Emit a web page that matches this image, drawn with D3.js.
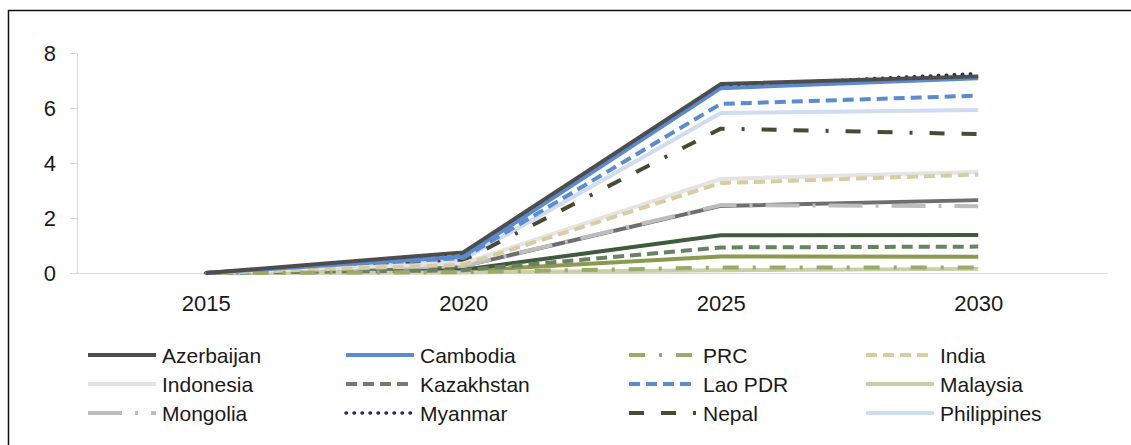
<!DOCTYPE html>
<html lang="en">
  <head>
    <meta charset="UTF-8">
    <title>Line chart by country</title>
    <style>
      body { margin: 0; background: #fff; }
      svg { display: block; font-family: "Liberation Sans", Arial, sans-serif; }
      .axis-y path, .axis-x path { stroke: #d9d9d9; }
      .axis-y .tick line { stroke: #d9d9d9; }
      .axis text { fill: #1a1a1a; font-size: 22px; }
      .legend text { fill: #1a1a1a; font-size: 21px; }
    </style>
    <script src="https://d3js.org/d3.v7.min.js"></script>
  </head>
  <body>
    <script>
      const years = [2015, 2020, 2025, 2030];
      const yTicks = [0, 2, 4, 6, 8];

      const countries = ["Azerbaijan", "Cambodia", "PRC", "India", "Indonesia", "Kazakhstan",
        "Lao PDR", "Malaysia", "Mongolia", "Myanmar", "Nepal", "Philippines"];
      // three more series are drawn but have no legend entry in the original
      const extraSeries = ["Series 13", "Series 14", "Series 15"];

      const azerbaijan = [0, 0.75, 6.87, 7.15];
      const cambodia = [0, 0.6, 6.72, 7.08];
      const prc = [0, 0.03, 0.2, 0.2];
      const india = [0, 0.3, 3.27, 3.58];
      const indonesia = [0, 0.35, 3.42, 3.67];
      const kazakhstan = [0, 0.1, 0.93, 0.96];
      const laoPdr = [0, 0.55, 6.15, 6.45];
      const malaysia = [0, 0.02, 0.1, 0.15];
      const mongolia = [0, 0.25, 2.47, 2.43];
      const myanmar = [0, 0.65, 6.8, 7.25];
      const nepal = [0, 0.45, 5.25, 5.05];
      const philippines = [0, 0.5, 5.82, 5.93];
      const series13 = [0, 0.25, 2.44, 2.65];
      const series14 = [0, 0.12, 1.37, 1.38];
      const series15 = [0, 0.08, 0.6, 0.59];

      const values = [azerbaijan, cambodia, prc, india, indonesia, kazakhstan, laoPdr,
        malaysia, mongolia, myanmar, nepal, philippines, series13, series14, series15];

      const colors = ["#4d4d4d", "#5a8bd0", "#9aaa68", "#d8cda0", "#e4e4e4", "#6a8162",
        "#5b8bd0", "#c9d0a8", "#bdbdbd", "#1f2d5a", "#4a4933", "#cfdcf2",
        "#6e6e6e", "#3f5a3c", "#8c9a4f"];
      const dashes = [null, null, "16,14,3,14", "11,6", null, "11,6",
        "11,6", null, "34,13,3,13", "0.5,7.5", "15,17,15,17,3,17", null,
        null, null, null];

      const width = 1131;
      const height = 445;
      const margin = { top: 53, right: 24, bottom: 172, left: 77 };

      const svg = d3.select("body")
        .append("svg")
        .attr("width", width)
        .attr("height", height);

      // outer frame (runs past the right and bottom edges of the picture)
      svg.append("rect")
        .attr("x", 8.5)
        .attr("y", 10.5)
        .attr("width", width)
        .attr("height", height)
        .attr("fill", "none")
        .attr("stroke", "#111")
        .attr("stroke-width", 1.5);

      const x = d3.scalePoint()
        .domain(years)
        .range([margin.left, width - margin.right])
        .padding(0.5);

      const y = d3.scaleLinear()
        .domain([0, 8])
        .range([height - margin.bottom, margin.top]);

      svg.append("g")
        .attr("class", "axis axis-y")
        .attr("transform", `translate(${margin.left},0)`)
        .call(d3.axisLeft(y).tickValues(yTicks).tickSize(7).tickSizeOuter(0).tickPadding(14))
        .call(g => g.selectAll("text").attr("font-family", null));

      svg.append("g")
        .attr("class", "axis axis-x")
        .attr("transform", `translate(0,${y(0)})`)
        .call(d3.axisBottom(x).tickSize(0).tickSizeOuter(0).tickPadding(22).tickFormat(d3.format("d")))
        .call(g => g.selectAll("text").attr("font-family", null));

      const names = countries.concat(extraSeries);
      const rows = names.map((name, i) => ({ name, i, vals: values[i] }));
      const isDots = i => dashes[i] === "0.5,7.5";

      const line = d3.line()
        .x((d, j) => x(years[j]))
        .y(d => y(d));

      // draw in reverse so the first series end up on top
      svg.append("g")
        .selectAll("path")
        .data(rows.slice().reverse())
        .enter()
        .append("path")
        .attr("d", d => line(d.vals))
        .attr("fill", "none")
        .attr("stroke", d => colors[d.i])
        .attr("stroke-width", d => isDots(d.i) ? 3.5 : 4)
        .attr("stroke-linecap", d => isDots(d.i) ? "round" : "butt")
        .attr("stroke-linejoin", "round")
        .attr("stroke-dasharray", d => dashes[d.i]);

      // legend, four columns
      const colX = [162, 420, 703, 940];
      const legend = svg.append("g").attr("class", "legend");
      const items = legend.selectAll("g")
        .data(countries)
        .enter()
        .append("g")
        .attr("transform", (d, i) => `translate(${colX[i % 4]},${355 + Math.floor(i / 4) * 29})`);

      items.append("line")
        .attr("x1", -74)
        .attr("x2", -6)
        .attr("stroke", (d, i) => colors[i])
        .attr("stroke-width", (d, i) => isDots(i) ? 3.5 : 4)
        .attr("stroke-linecap", (d, i) => isDots(i) ? "round" : "butt")
        .attr("stroke-dasharray", (d, i) => dashes[i]);

      items.append("text")
        .attr("x", 0)
        .attr("dy", "0.36em")
        .text(d => d);
    </script>
  </body>
</html>
